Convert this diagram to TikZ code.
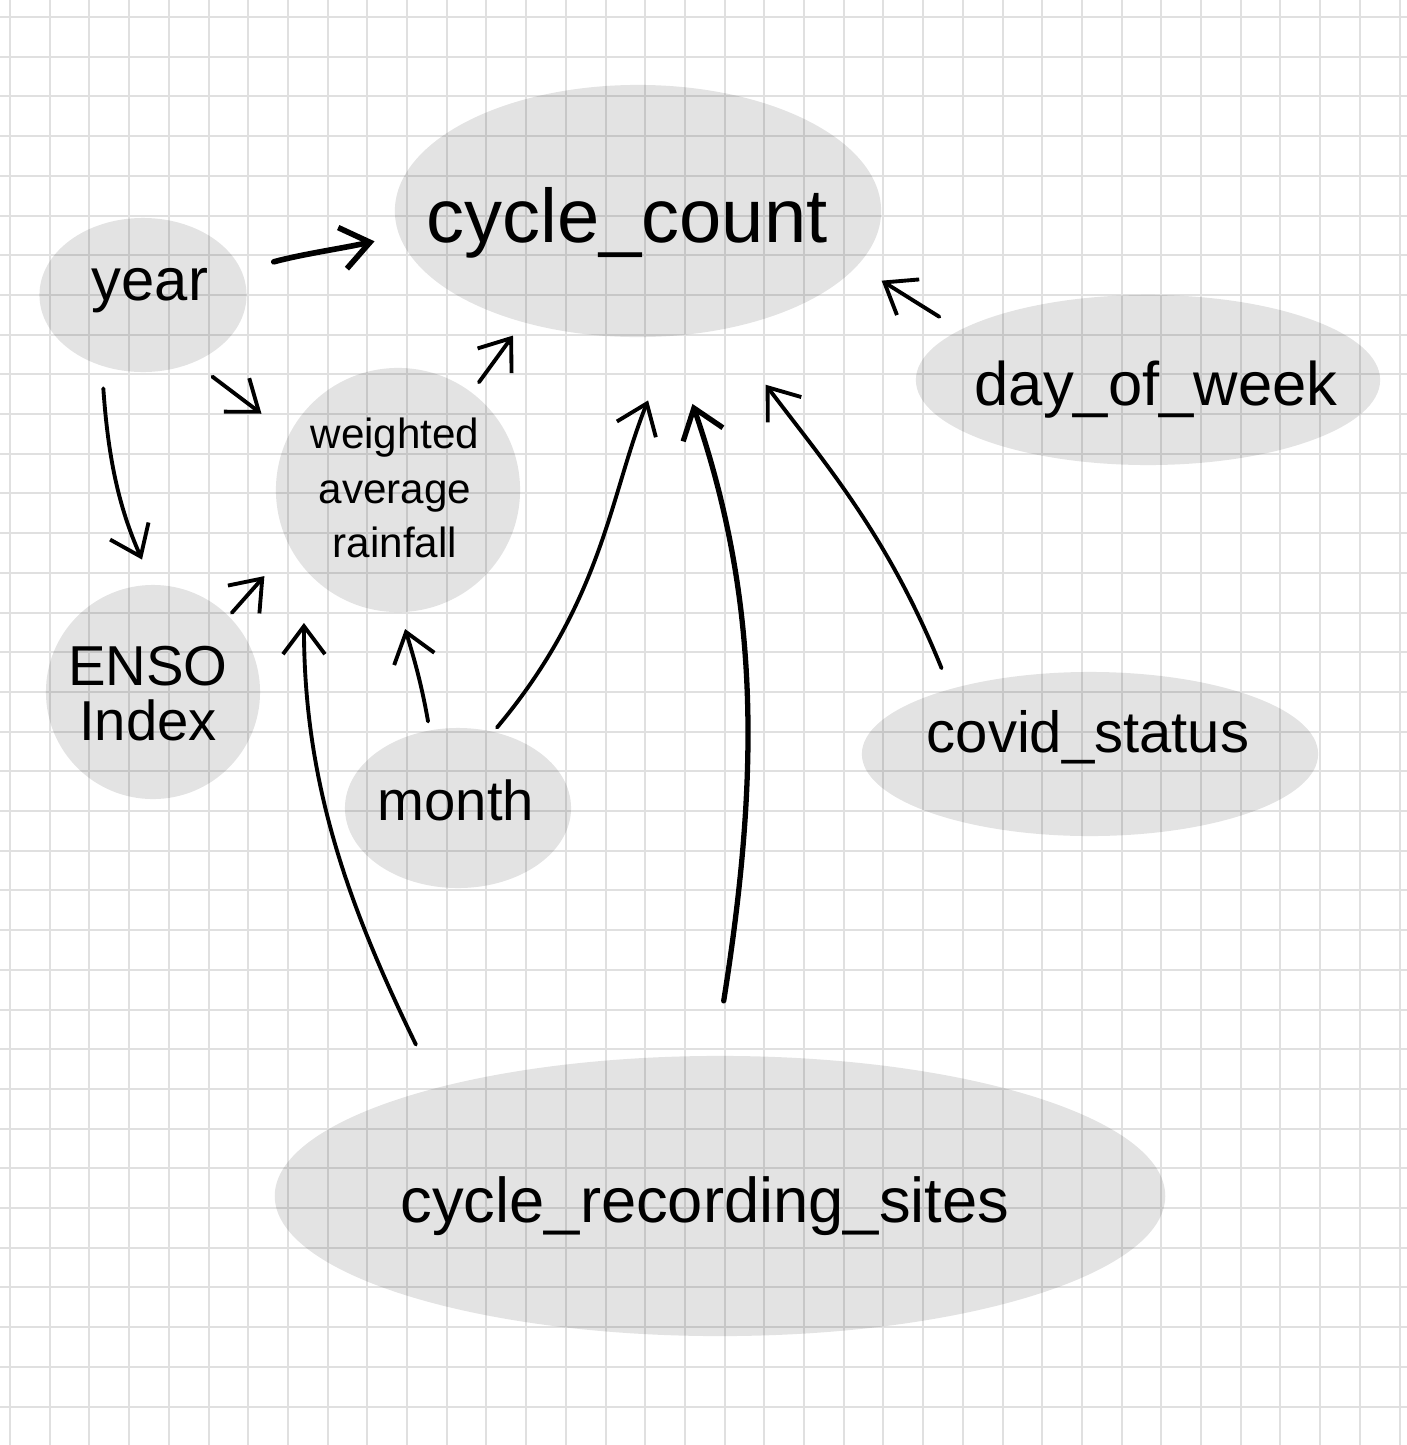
\documentclass[tikz,border=0pt]{standalone}
\usepackage{fontspec}
\setmainfont{Liberation Sans}
\usetikzlibrary{shapes.geometric,arrows.meta}
\begin{document}
\begin{tikzpicture}[x=0.01cm, y=0.01cm,
  paper line/.style={draw=black!12, line width=0.02cm},
  blob/.style={ellipse, fill=black, fill opacity=0.11, inner sep=0pt},
  hand/.style={inner sep=0pt, align=center, text=black},
  arr/.style={line width=1.1pt, line cap=round, -{Straight Barb[length=0.28cm, width=0.42cm]}}]
\useasboundingbox (0,0) rectangle (1407,-1445);
\fill [white] (0,0) rectangle (1407,-1445);
\foreach \k in {0,...,35} {
  \draw [paper line] ({10+39.7*\k},0) -- ({10+39.7*\k},-1445);
  \draw [paper line] (0,{-17-39.7*\k}) -- (1407,{-17-39.7*\k});
}
\node [blob, minimum width=4.86cm, minimum height=2.52cm] (count) at (638,-211) {};
\node [blob, minimum width=2.07cm, minimum height=1.54cm] (year) at (143,-295) {};
\node [blob, minimum width=2.44cm, minimum height=2.44cm] (rain) at (398,-490) {};
\node [blob, minimum width=2.14cm, minimum height=2.14cm] (enso) at (153,-692) {};
\node [blob, minimum width=2.26cm, minimum height=1.60cm] (month) at (458,-808) {};
\node [blob, minimum width=4.64cm, minimum height=1.70cm] (day) at (1148,-380) {};
\node [blob, minimum width=4.56cm, minimum height=1.64cm] (covid) at (1090,-754) {};
\node [blob, minimum width=8.90cm, minimum height=2.80cm] (sites) at (720,-1196) {};
\node [hand, anchor=base, font=\fontsize{21.6}{26}\selectfont] (count-txt) at (627,-242) {cycle\_count};
\node [hand, anchor=base, font=\fontsize{17}{21}\selectfont] (year-txt) at (150,-300) {year};
\node [hand, font=\fontsize{12}{15.6}\selectfont] (rain-txt) at (395,-488) {weighted\\average\\rainfall};
\node [hand, font=\fontsize{16}{15.6}\selectfont] (enso-txt) at (148,-694) {ENSO\\Index};
\node [hand, anchor=base, font=\fontsize{16}{19}\selectfont] (month-txt) at (456,-820) {month};
\node [hand, anchor=base, font=\fontsize{17.5}{21}\selectfont] (day-txt) at (1156,-405) {day\_of\_week};
\node [hand, anchor=base, font=\fontsize{16.5}{20}\selectfont] (covid-txt) at (1088,-752) {covid\_status};
\node [hand, anchor=base, font=\fontsize{18}{22}\selectfont] (sites-txt) at (705,-1222) {cycle\_recording\_sites};
\draw [arr, line width=1.6pt, out=15, in=192, shorten <=0.33cm, shorten >=0.25cm] (year.14) to (count.186);
\draw [arr, out=-86, in=114, shorten <=0.22cm, shorten >=0.27cm] (year.240) to (enso.90);
\draw [arr, shorten <=0.23cm, shorten >=0.34cm] (year.-53) -- (rain.153);
\draw [arr, shorten <=0.12cm, shorten >=0.16cm] (rain.53) -- (count.224);
\draw [arr, shorten <=0.24cm, shorten >=0.28cm] (day.165) -- (count.-14);
\draw [arr, shorten <=0.04cm, shorten >=0.38cm] (enso.45) -- (rain.208);
\draw [arr, out=100, in=-73, shorten <=0.085cm, shorten >=0.17cm] (month.110) to (rain.-89);
\draw [arr, out=50, in=-112, shorten <=0.05cm, shorten >=0.69cm] (month.65) to (count.-74);
\draw [arr, out=116, in=-90, shorten <=0.475cm, shorten >=0.54cm] (sites.159) to (rain.220);
\draw [arr, line width=1.5pt, out=81, in=-71, shorten <=0.55cm, shorten >=0.71cm] (sites.92) to (count.-76);
\draw [arr, out=112, in=-53, shorten <=0.22cm, shorten >=0.69cm] (covid.155) to (count.-54);
\end{tikzpicture}
\end{document}
